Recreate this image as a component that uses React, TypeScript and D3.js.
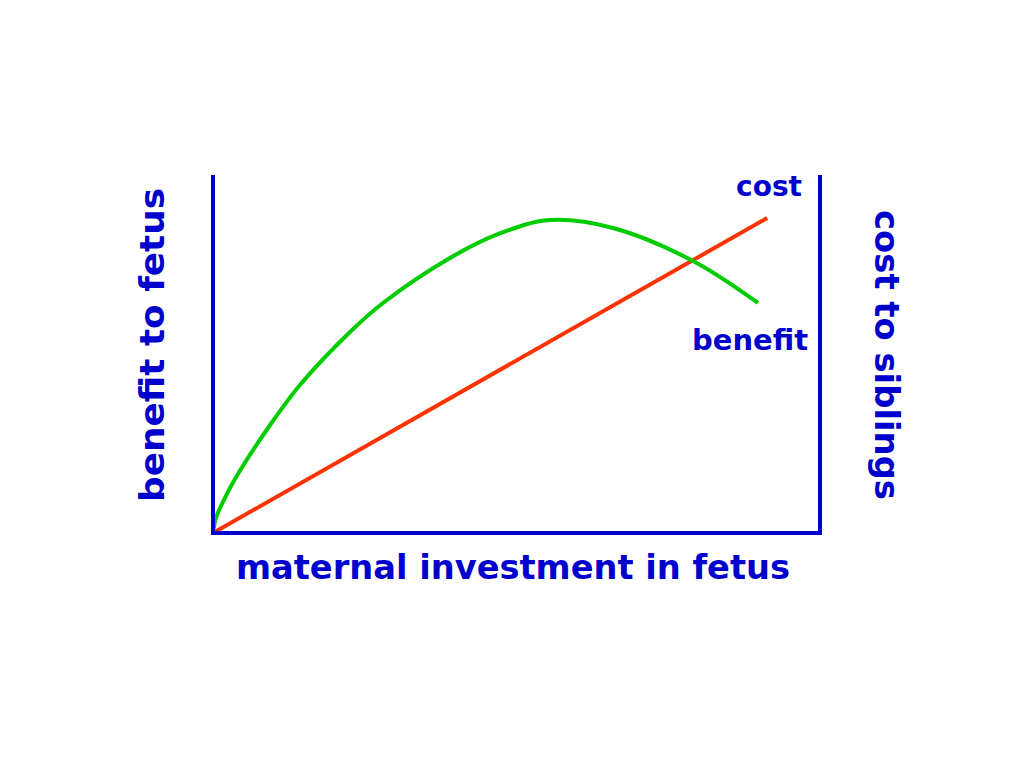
import React from "react";
import * as d3 from "d3";

const benefitX = [0, 0.49, 1.48, 3.62, 9.06, 14.33, 22.57, 28.01, 39.04, 47.45, 55.52, 65.9, 79.08, 89.79];
const benefitY = [0, 4.19, 8.1, 15.08, 29.33, 41.34, 56.15, 64.25, 76.82, 83.8, 87.4, 85.2, 75.98, 64.25];
const costX = [0, 91.3];
const costY = [0, 88.0];

const BLUE = "#0000CC";
const FONT = "'Comic Sans MS', 'DejaVu Sans', sans-serif";

export default function App() {
  const W = 1024, H = 768;
  const left = 213, right = 820, top = 175, bottom = 533;
  const x = d3.scaleLinear().domain([0, 100]).range([left, right]);
  const y = d3.scaleLinear().domain([0, 100]).range([bottom, top]);
  const curve = d3.line<[number, number]>().x(d => x(d[0])).y(d => y(d[1])).curve(d3.curveCatmullRom.alpha(0.5));
  const straight = d3.line<[number, number]>().x(d => x(d[0])).y(d => y(d[1]));
  const bPts = benefitX.map((v, i) => [v, benefitY[i]] as [number, number]);
  const cPts = costX.map((v, i) => [v, costY[i]] as [number, number]);
  return (
    <svg width={W} height={H} style={{ position: "absolute", left: 0, top: 0 }}>
      <rect width={W} height={H} fill="#fff" />
      <path d={straight(cPts) || ""} fill="none" stroke="#FF3300" strokeWidth={4} />
      <path d={curve(bPts) || ""} fill="none" stroke="#00CC00" strokeWidth={4} />
      <path d={`M${left},${top}V${bottom}H${right}V${top}`} fill="none" stroke={BLUE} strokeWidth={4} />
      <g fill={BLUE} fontFamily={FONT} fontWeight="bold">
        <text x={513} y={579} fontSize={34} textAnchor="middle" textLength={554} lengthAdjust="spacingAndGlyphs">maternal investment in fetus</text>
        <text x={802} y={196} fontSize={28} textAnchor="end" textLength={66} lengthAdjust="spacingAndGlyphs">cost</text>
        <text x={808} y={350} fontSize={28} textAnchor="end" textLength={116} lengthAdjust="spacingAndGlyphs">benefit</text>
        <text transform="translate(164,345) rotate(-90)" fontSize={34} textAnchor="middle" textLength={314} lengthAdjust="spacingAndGlyphs">benefit to fetus</text>
        <text transform="translate(875,355) rotate(90)" fontSize={34} textAnchor="middle" textLength={290} lengthAdjust="spacingAndGlyphs">cost to siblings</text>
      </g>
    </svg>
  );
}
